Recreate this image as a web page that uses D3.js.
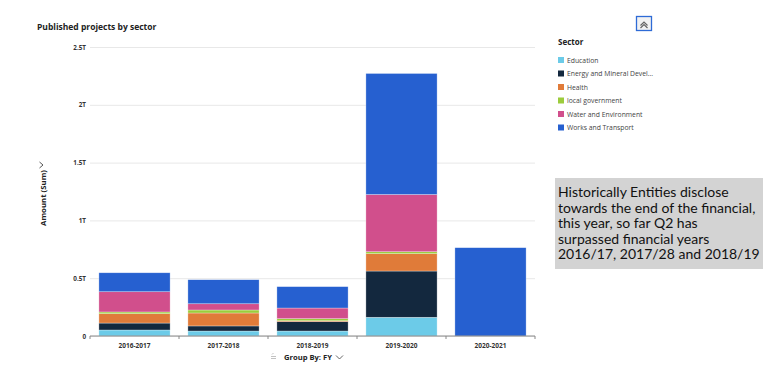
<!DOCTYPE html>
<html>
<head>
<meta charset="utf-8">
<script src="https://cdn.jsdelivr.net/npm/d3@7"></script>
<style>
  body { margin: 0; background: #fff; font-family: "Open Sans", "Noto Sans", sans-serif; }
</style>
</head>
<body>
<div id="grafico"></div>
<script>
// DATOS
var years = ['2016-2017', '2017-2018', '2018-2019', '2019-2020', '2020-2021'];
var sectors = ['Education', 'Energy and Mineral Development', 'Health', 'local government', 'Water and Environment', 'Works and Transport'];
var legendLabels = ['Education', 'Energy and Mineral Devel...', 'Health', 'local government', 'Water and Environment', 'Works and Transport'];
var colores = ['#6ccbe8', '#13283e', '#e07b39', '#9ccc3c', '#d14f8c', '#2660d0'];
// valores en billones (T)
var education = [0.052, 0.043, 0.043, 0.162, 0];
var energy    = [0.060, 0.044, 0.081, 0.400, 0];
var health    = [0.081, 0.112, 0.008, 0.150, 0];
var localGov  = [0.015, 0.026, 0.018, 0.017, 0];
var water     = [0.175, 0.054, 0.092, 0.495, 0];
var works     = [0.164, 0.208, 0.185, 1.047, 0.764];
var yTicks = [0, 0.5, 1, 1.5, 2, 2.5];
var yTickLabels = ['0', '0.5T', '1T', '1.5T', '2T', '2.5T'];
var nota = ['Historically Entities disclose', 'towards the end of the financial,', 'this year, so far Q2 has', 'surpassed financial years', '2016/17, 2017/28 and 2018/19'];

var series = [education, energy, health, localGov, water, works];
var tabla = years.map(function (y, i) {
    var fila = { year: y };
    sectors.forEach(function (s, k) { fila[s] = series[k][i]; });
    return fila;
});

var width = 779, height = 375;
var svg = d3.select('#grafico').append('svg').attr('width', width).attr('height', height);

// ESCALAS
var scale_x = d3.scaleBand().domain(years).range([90, 535]).paddingInner(0.2).paddingOuter(0.1);
var scale_y = d3.scaleLinear().domain([0, 2.5]).range([336, 47]);
var color = d3.scaleOrdinal().domain(sectors).range(colores);

// titulo
svg.append('text').attr('x', 37).attr('y', 30)
    .attr('font-size', 8.5).attr('font-weight', 'bold').attr('fill', '#222')
    .text('Published projects by sector');

// grilla y eje Y
var gy = svg.append('g').attr('transform', 'translate(90,0)')
    .call(d3.axisLeft(scale_y).tickValues(yTicks).tickSize(-445)
        .tickFormat(function (d, i) { return yTickLabels[i]; }));
gy.select('.domain').remove();
gy.selectAll('.tick line').attr('stroke', '#e8e8e8');
gy.selectAll('.tick text').attr('x', -4).attr('font-size', 6.3).attr('font-weight', 'bold')
    .attr('fill', '#333').attr('font-family', 'Open Sans');

// barras apiladas
var stack = d3.stack().keys(sectors);
var capas = stack(tabla);
svg.append('g').selectAll('g').data(capas).enter().append('g')
    .attr('fill', function (d) { return color(d.key); })
    .selectAll('rect').data(function (d) { return d; }).enter().append('rect')
    .filter(function (d) { return d[1] - d[0] > 0; })
    .attr('x', function (d) { return scale_x(d.data.year); })
    .attr('width', scale_x.bandwidth())
    .attr('y', function (d) { return scale_y(d[1]); })
    .attr('height', function (d) { return scale_y(d[0]) - scale_y(d[1]); })
    .attr('stroke', 'rgba(255,255,255,0.5)').attr('stroke-width', 0.6);

// eje X
var gx = svg.append('g').attr('transform', 'translate(0,336)')
    .call(d3.axisBottom(scale_x).tickSize(0).tickPadding(7));
gx.select('.domain').attr('stroke', '#888').attr('d', 'M90,3V0H535V3');
gx.selectAll('.tick text').attr('font-size', 6.5).attr('font-weight', 'bold')
    .attr('fill', '#333').attr('font-family', 'Open Sans');
// marcas entre categorias
var bordes = years.slice(1).map(function (y) { return scale_x(y) - scale_x.step() * scale_x.paddingInner() / 2; });
gx.selectAll('.sep').data(bordes).enter().append('line')
    .attr('x1', function (d) { return d; }).attr('x2', function (d) { return d; })
    .attr('y1', 0).attr('y2', 3).attr('stroke', '#888');

// etiqueta eje Y
var ly = svg.append('g').attr('transform', 'translate(46,198) rotate(-90)');
ly.append('text').attr('text-anchor', 'middle').attr('font-size', 7.8).attr('font-weight', 'bold')
    .attr('fill', '#222').text('Amount (Sum)');
ly.append('path').attr('d', 'M30,-6.5 L33,-3 L36,-6.5').attr('fill', 'none')
    .attr('stroke', '#444').attr('stroke-width', 0.9);

// Group By
svg.append('path').attr('d', 'M271,356.5 H276 M271,358.5 H276 M272,354.5 L273.5,353').attr('fill', 'none')
    .attr('stroke', '#999').attr('stroke-width', 0.6);
svg.append('text').attr('x', 284).attr('y', 360).attr('font-size', 7.6).attr('font-weight', 'bold')
    .attr('fill', '#222').text('Group By: FY');
svg.append('path').attr('d', 'M336,355.5 L339.5,359 L343,355.5').attr('fill', 'none')
    .attr('stroke', '#555').attr('stroke-width', 0.9);

// boton colapsar
svg.append('rect').attr('x', 636.5).attr('y', 16.5).attr('width', 15).attr('height', 14)
    .attr('fill', '#f2f2f2').attr('stroke', '#2e6bd6').attr('stroke-width', 1.3);
svg.append('path').attr('d', 'M640.5,25.5 L644,22 L647.5,25.5 M640.5,28 L644,24.5 L647.5,28')
    .attr('fill', 'none').attr('stroke', '#666').attr('stroke-width', 1.2);

// leyenda
svg.append('text').attr('x', 558).attr('y', 45).attr('font-size', 8).attr('font-weight', 'bold')
    .attr('fill', '#222').text('Sector');
var leg = svg.append('g').selectAll('g').data(sectors).enter().append('g')
    .attr('transform', function (d, i) { return 'translate(558,' + (57 + i * 13.5) + ')'; });
leg.append('rect').attr('width', 6).attr('height', 6).attr('fill', function (d) { return color(d); });
leg.append('text').attr('x', 9).attr('y', 5.5).attr('font-size', 6.8).attr('fill', '#444')
    .text(function (d, i) { return legendLabels[i]; });

// nota
svg.append('rect').attr('x', 555).attr('y', 178).attr('width', 208).attr('height', 91).attr('fill', '#d3d3d3');
svg.append('g').selectAll('text').data(nota).enter().append('text')
    .attr('x', 558).attr('y', function (d, i) { return 197 + i * 15.6; })
    .attr('font-family', 'Lato').attr('font-size', 14).attr('fill', '#111')
    .text(function (d) { return d; });
</script>
</body>
</html>
